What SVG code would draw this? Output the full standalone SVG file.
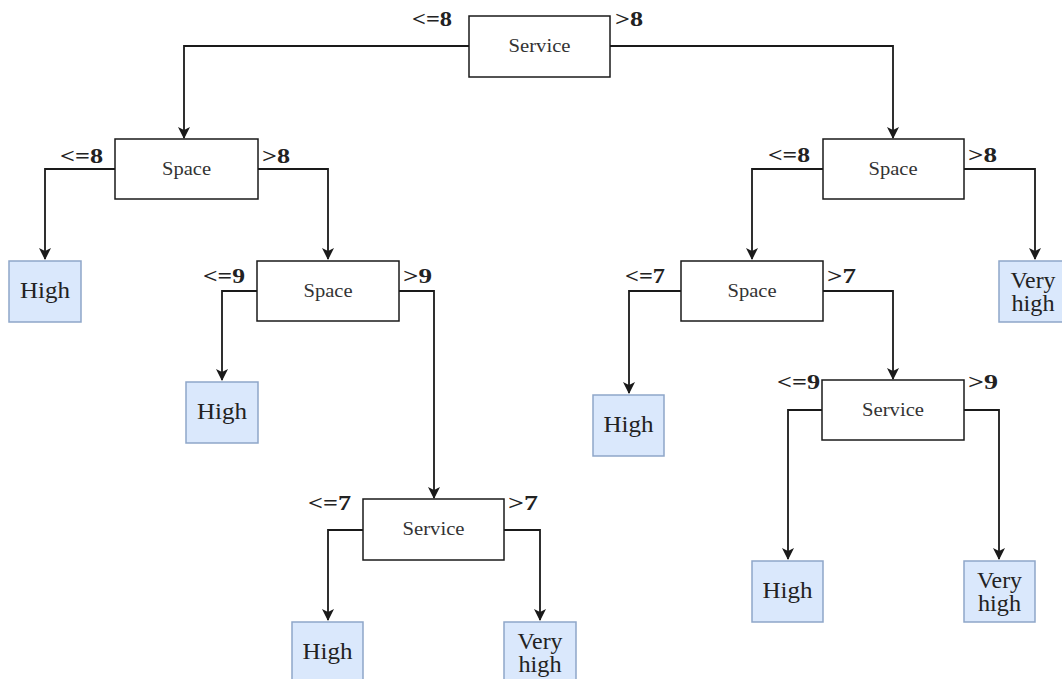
<svg xmlns="http://www.w3.org/2000/svg" width="1062" height="679" viewBox="0 0 1062 679">
<defs>
<style>
.node rect{fill:#fff;stroke:#1a1a1a;stroke-width:1.5}
.leaf rect{fill:#dae8fc;stroke:#8ea6c9;stroke-width:1.5}
.nt{font-family:"Liberation Serif",serif;font-size:19px;fill:#333;text-anchor:middle}
.lt{font-family:"Liberation Serif",serif;font-size:23px;fill:#222;text-anchor:middle}
.lab{font-family:"Liberation Serif",serif;font-size:20px;font-weight:bold;fill:#222}
.edges path{fill:none;stroke:#1a1a1a;stroke-width:1.8;marker-end:url(#arr)}
</style>
<marker id="arr" viewBox="0 0 12 12" refX="11" refY="6" markerWidth="12" markerHeight="12" markerUnits="userSpaceOnUse" orient="auto">
<path d="M0,0 L12,6 L0,12 L3,6 z" fill="#1a1a1a"/>
</marker>
</defs>
<rect width="1062" height="679" fill="#fff"/>
<g class="edges" id="connectors">
<path d="M469,46 H184 V138"/>
<path d="M610,46 H893 V138"/>
<path d="M115,169 H45 V259"/>
<path d="M258,169 H328 V259"/>
<path d="M257,291 H222 V380"/>
<path d="M399,291 H434 V498"/>
<path d="M363,530 H328 V620"/>
<path d="M504,530 H540 V620"/>
<path d="M823,169 H752 V259"/>
<path d="M964,169 H1035 V259"/>
<path d="M681,291 H629 V393"/>
<path d="M823,291 H893 V379"/>
<path d="M822,410 H788 V559"/>
<path d="M964,410 H999 V559"/>
</g>
<g id="labels">
<text class="lab" x="412" y="26" textLength="40" lengthAdjust="spacingAndGlyphs">&lt;=8</text>
<text class="lab" x="615" y="26" textLength="28" lengthAdjust="spacingAndGlyphs">&gt;8</text>
<text class="lab" x="60" y="163" textLength="43" lengthAdjust="spacingAndGlyphs">&lt;=8</text>
<text class="lab" x="262" y="163" textLength="28" lengthAdjust="spacingAndGlyphs">&gt;8</text>
<text class="lab" x="203" y="283" textLength="42" lengthAdjust="spacingAndGlyphs">&lt;=9</text>
<text class="lab" x="403" y="283" textLength="29" lengthAdjust="spacingAndGlyphs">&gt;9</text>
<text class="lab" x="308" y="510" textLength="43" lengthAdjust="spacingAndGlyphs">&lt;=7</text>
<text class="lab" x="508" y="510" textLength="30" lengthAdjust="spacingAndGlyphs">&gt;7</text>
<text class="lab" x="768" y="162" textLength="42" lengthAdjust="spacingAndGlyphs">&lt;=8</text>
<text class="lab" x="968" y="162" textLength="29" lengthAdjust="spacingAndGlyphs">&gt;8</text>
<text class="lab" x="625" y="283" textLength="40" lengthAdjust="spacingAndGlyphs">&lt;=7</text>
<text class="lab" x="827" y="283" textLength="29" lengthAdjust="spacingAndGlyphs">&gt;7</text>
<text class="lab" x="777" y="389" textLength="43" lengthAdjust="spacingAndGlyphs">&lt;=9</text>
<text class="lab" x="968" y="389" textLength="30" lengthAdjust="spacingAndGlyphs">&gt;9</text>
</g>
<g id="n-root" class="node"><rect x="469" y="16" width="141" height="61"/><text class="nt" x="539.5" y="52" textLength="62" lengthAdjust="spacingAndGlyphs">Service</text></g>
<g id="n-space-l" class="node"><rect x="115" y="139" width="143" height="60"/><text class="nt" x="186.5" y="175" textLength="49" lengthAdjust="spacingAndGlyphs">Space</text></g>
<g id="n-space-l2" class="node"><rect x="257" y="261" width="142" height="60"/><text class="nt" x="328" y="297" textLength="49" lengthAdjust="spacingAndGlyphs">Space</text></g>
<g id="n-service-l3" class="node"><rect x="363" y="499" width="141" height="61"/><text class="nt" x="433.5" y="535" textLength="62" lengthAdjust="spacingAndGlyphs">Service</text></g>
<g id="n-space-r" class="node"><rect x="823" y="139" width="141" height="60"/><text class="nt" x="893" y="175" textLength="49" lengthAdjust="spacingAndGlyphs">Space</text></g>
<g id="n-space-r2" class="node"><rect x="681" y="261" width="142" height="60"/><text class="nt" x="752" y="297" textLength="49" lengthAdjust="spacingAndGlyphs">Space</text></g>
<g id="n-service-r3" class="node"><rect x="822" y="380" width="142" height="60"/><text class="nt" x="893" y="416" textLength="62" lengthAdjust="spacingAndGlyphs">Service</text></g>
<g id="leaf1" class="leaf"><rect x="9" y="261" width="72" height="61"/><text class="lt" x="45" y="298" textLength="50" lengthAdjust="spacingAndGlyphs">High</text></g>
<g id="leaf2" class="leaf"><rect x="186" y="382" width="72" height="61"/><text class="lt" x="222" y="419" textLength="50" lengthAdjust="spacingAndGlyphs">High</text></g>
<g id="leaf3" class="leaf"><rect x="292" y="622" width="71" height="62"/><text class="lt" x="327.5" y="659" textLength="50" lengthAdjust="spacingAndGlyphs">High</text></g>
<g id="leaf4" class="leaf"><rect x="504" y="622" width="72" height="62"/><text class="lt" x="540" y="649" textLength="45" lengthAdjust="spacingAndGlyphs">Very</text><text class="lt" x="540" y="672" textLength="43" lengthAdjust="spacingAndGlyphs">high</text></g>
<g id="leaf5" class="leaf"><rect x="999" y="261" width="72" height="61"/><text class="lt" x="1033" y="288" textLength="45" lengthAdjust="spacingAndGlyphs">Very</text><text class="lt" x="1033" y="311" textLength="43" lengthAdjust="spacingAndGlyphs">high</text></g>
<g id="leaf6" class="leaf"><rect x="593" y="395" width="71" height="61"/><text class="lt" x="628.5" y="432" textLength="50" lengthAdjust="spacingAndGlyphs">High</text></g>
<g id="leaf7" class="leaf"><rect x="752" y="561" width="71" height="61"/><text class="lt" x="787.5" y="598" textLength="50" lengthAdjust="spacingAndGlyphs">High</text></g>
<g id="leaf8" class="leaf"><rect x="964" y="561" width="71" height="61"/><text class="lt" x="999.5" y="588" textLength="45" lengthAdjust="spacingAndGlyphs">Very</text><text class="lt" x="999.5" y="611" textLength="43" lengthAdjust="spacingAndGlyphs">high</text></g>
</svg>
